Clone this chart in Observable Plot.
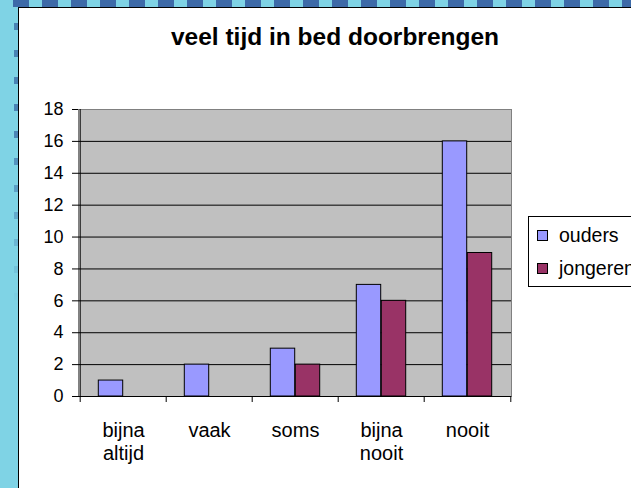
<!DOCTYPE html>
<html>
<head>
<meta charset="utf-8">
<script src="https://cdn.jsdelivr.net/npm/d3@7"></script>
<script src="https://cdn.jsdelivr.net/npm/@observablehq/plot@0.6"></script>
<style>
  html, body { margin: 0; padding: 0; }
  body { width: 631px; height: 488px; overflow: hidden; position: relative; background: #7fd3e5; font-family: Arial, "Liberation Sans", sans-serif; }
  #topstrip { position: absolute; left: 0; top: 0; width: 631px; height: 7px;
    background: repeating-linear-gradient(90deg, #7fd3e5 0 13px, #3d6aa8 13px 29px); }
  #leftdash { position: absolute; left: 14px; top: 7px; width: 4px; height: 300px;
    background: repeating-linear-gradient(180deg, #7fd3e5 0 16px, #4a82b4 16px 23px, #7fd3e5 23px 27px);
    -webkit-mask-image: linear-gradient(180deg, #000 40%, transparent 100%);
    mask-image: linear-gradient(180deg, #000 40%, transparent 100%); }
  #box { position: absolute; left: 18px; top: 7px; width: 700px; height: 600px; background: #fff;
    border-left: 1px solid #000; border-top: 1px solid #000; }
  #chart { position: absolute; left: 0; top: 0; }
  #title { position: absolute; left: 85px; width: 500px; top: 25px; text-align: center;
    font-weight: bold; font-size: 24.5px; line-height: 24px; color: #000; white-space: nowrap; }
  #legend { position: absolute; left: 528px; top: 216px; width: 120px; height: 69px;
    border: 1px solid #000; background: #fff; }
  .item { position: absolute; left: 8px; font-size: 19.5px; line-height: 20px; white-space: nowrap; }
  .sw { display: inline-block; width: 9px; height: 9px; border: 1px solid #000; margin-right: 11px; vertical-align: 1px; }
</style>
</head>
<body>
<div id="topstrip"></div>
<div id="leftdash"></div>
<div id="box"></div>
<div id="chart"></div>
<div id="title">veel tijd in bed doorbrengen</div>
<div id="legend"></div>
<script>
const categories = ["bijna altijd", "vaak", "soms", "bijna nooit", "nooit"];
const tickLabels = ["bijna\naltijd", "vaak", "soms", "bijna\nnooit", "nooit"];
const seriesNames = ["ouders", "jongeren"];
const ouders = [1, 2, 3, 7, 16];
const jongeren = [0, 0, 2, 6, 9];
const yTicks = [0, 2, 4, 6, 8, 10, 12, 14, 16, 18];
const colors = ["#9999ff", "#993366"];

const W = 631, H = 488, ML = 78, MR = 120, MT = 109, MB = 92;
const bw = (W - ML - MR) / categories.length;
const barW = 25;

const rows = [];
categories.forEach((c, i) => {
  rows.push({cat: c, series: "ouders", value: ouders[i]});
  rows.push({cat: c, series: "jongeren", value: jongeren[i]});
});
const visible = rows.filter(d => d.value > 0);
const labelOf = new Map(categories.map((c, i) => [c, tickLabels[i]]));

const chart = Plot.plot({
  width: W, height: H,
  marginLeft: ML, marginRight: MR, marginTop: MT, marginBottom: MB,
  style: {background: "transparent", fontFamily: "Arial, 'Liberation Sans', sans-serif", fontSize: "18px", color: "#000"},
  x: {domain: categories, padding: 0, axis: null, label: null},
  y: {domain: [0, 18], axis: null, label: null},
  color: {domain: seriesNames, range: colors},
  marks: [
    Plot.frame({fill: "#c0c0c0", stroke: "#808080"}),
    Plot.ruleY(yTicks.filter(t => t > 0 && t < 18), {stroke: "#000", strokeWidth: 1}),
    Plot.barY(visible.filter(d => d.series === "ouders"), {
      x: "cat", y: "value", fill: d => d.series, stroke: "#000", strokeWidth: 1,
      insetLeft: bw / 2 - barW, insetRight: bw / 2
    }),
    Plot.barY(visible.filter(d => d.series === "jongeren"), {
      x: "cat", y: "value", fill: d => d.series, stroke: "#000", strokeWidth: 1,
      insetLeft: bw / 2, insetRight: bw / 2 - barW
    }),
    Plot.ruleY([0], {stroke: "#000", strokeWidth: 1}),
    Plot.ruleX([categories[0]], {x: d => d, dx: -bw / 2, stroke: "#000", insetBottom: -6}),
    Plot.ruleX(categories.slice(1), {x: d => d, dx: -bw / 2, y1: 0, y2: 0, insetBottom: -6, stroke: "#000"}),
    Plot.ruleX([categories[categories.length - 1]], {x: d => d, dx: bw / 2, y1: 0, y2: 0, insetBottom: -6, stroke: "#000"}),
    Plot.axisY(yTicks, {tickSize: 6, tickPadding: 9, fontSize: 18, stroke: "#000", fill: "#000", label: null}),
    Plot.text(categories, {
      x: d => d, y: 0, text: d => labelOf.get(d), dy: 24, lineAnchor: "top",
      lineHeight: 23 / 20, fontSize: 20, fill: "#000"
    })
  ]
});
document.getElementById("chart").appendChild(chart);

const legend = document.getElementById("legend");
seriesNames.forEach((s, i) => {
  const item = document.createElement("div");
  item.className = "item";
  item.style.top = (8 + i * 33) + "px";
  const sw = document.createElement("span");
  sw.className = "sw";
  sw.style.background = colors[i];
  item.appendChild(sw);
  item.appendChild(document.createTextNode(s));
  legend.appendChild(item);
});
</script>
</body>
</html>
